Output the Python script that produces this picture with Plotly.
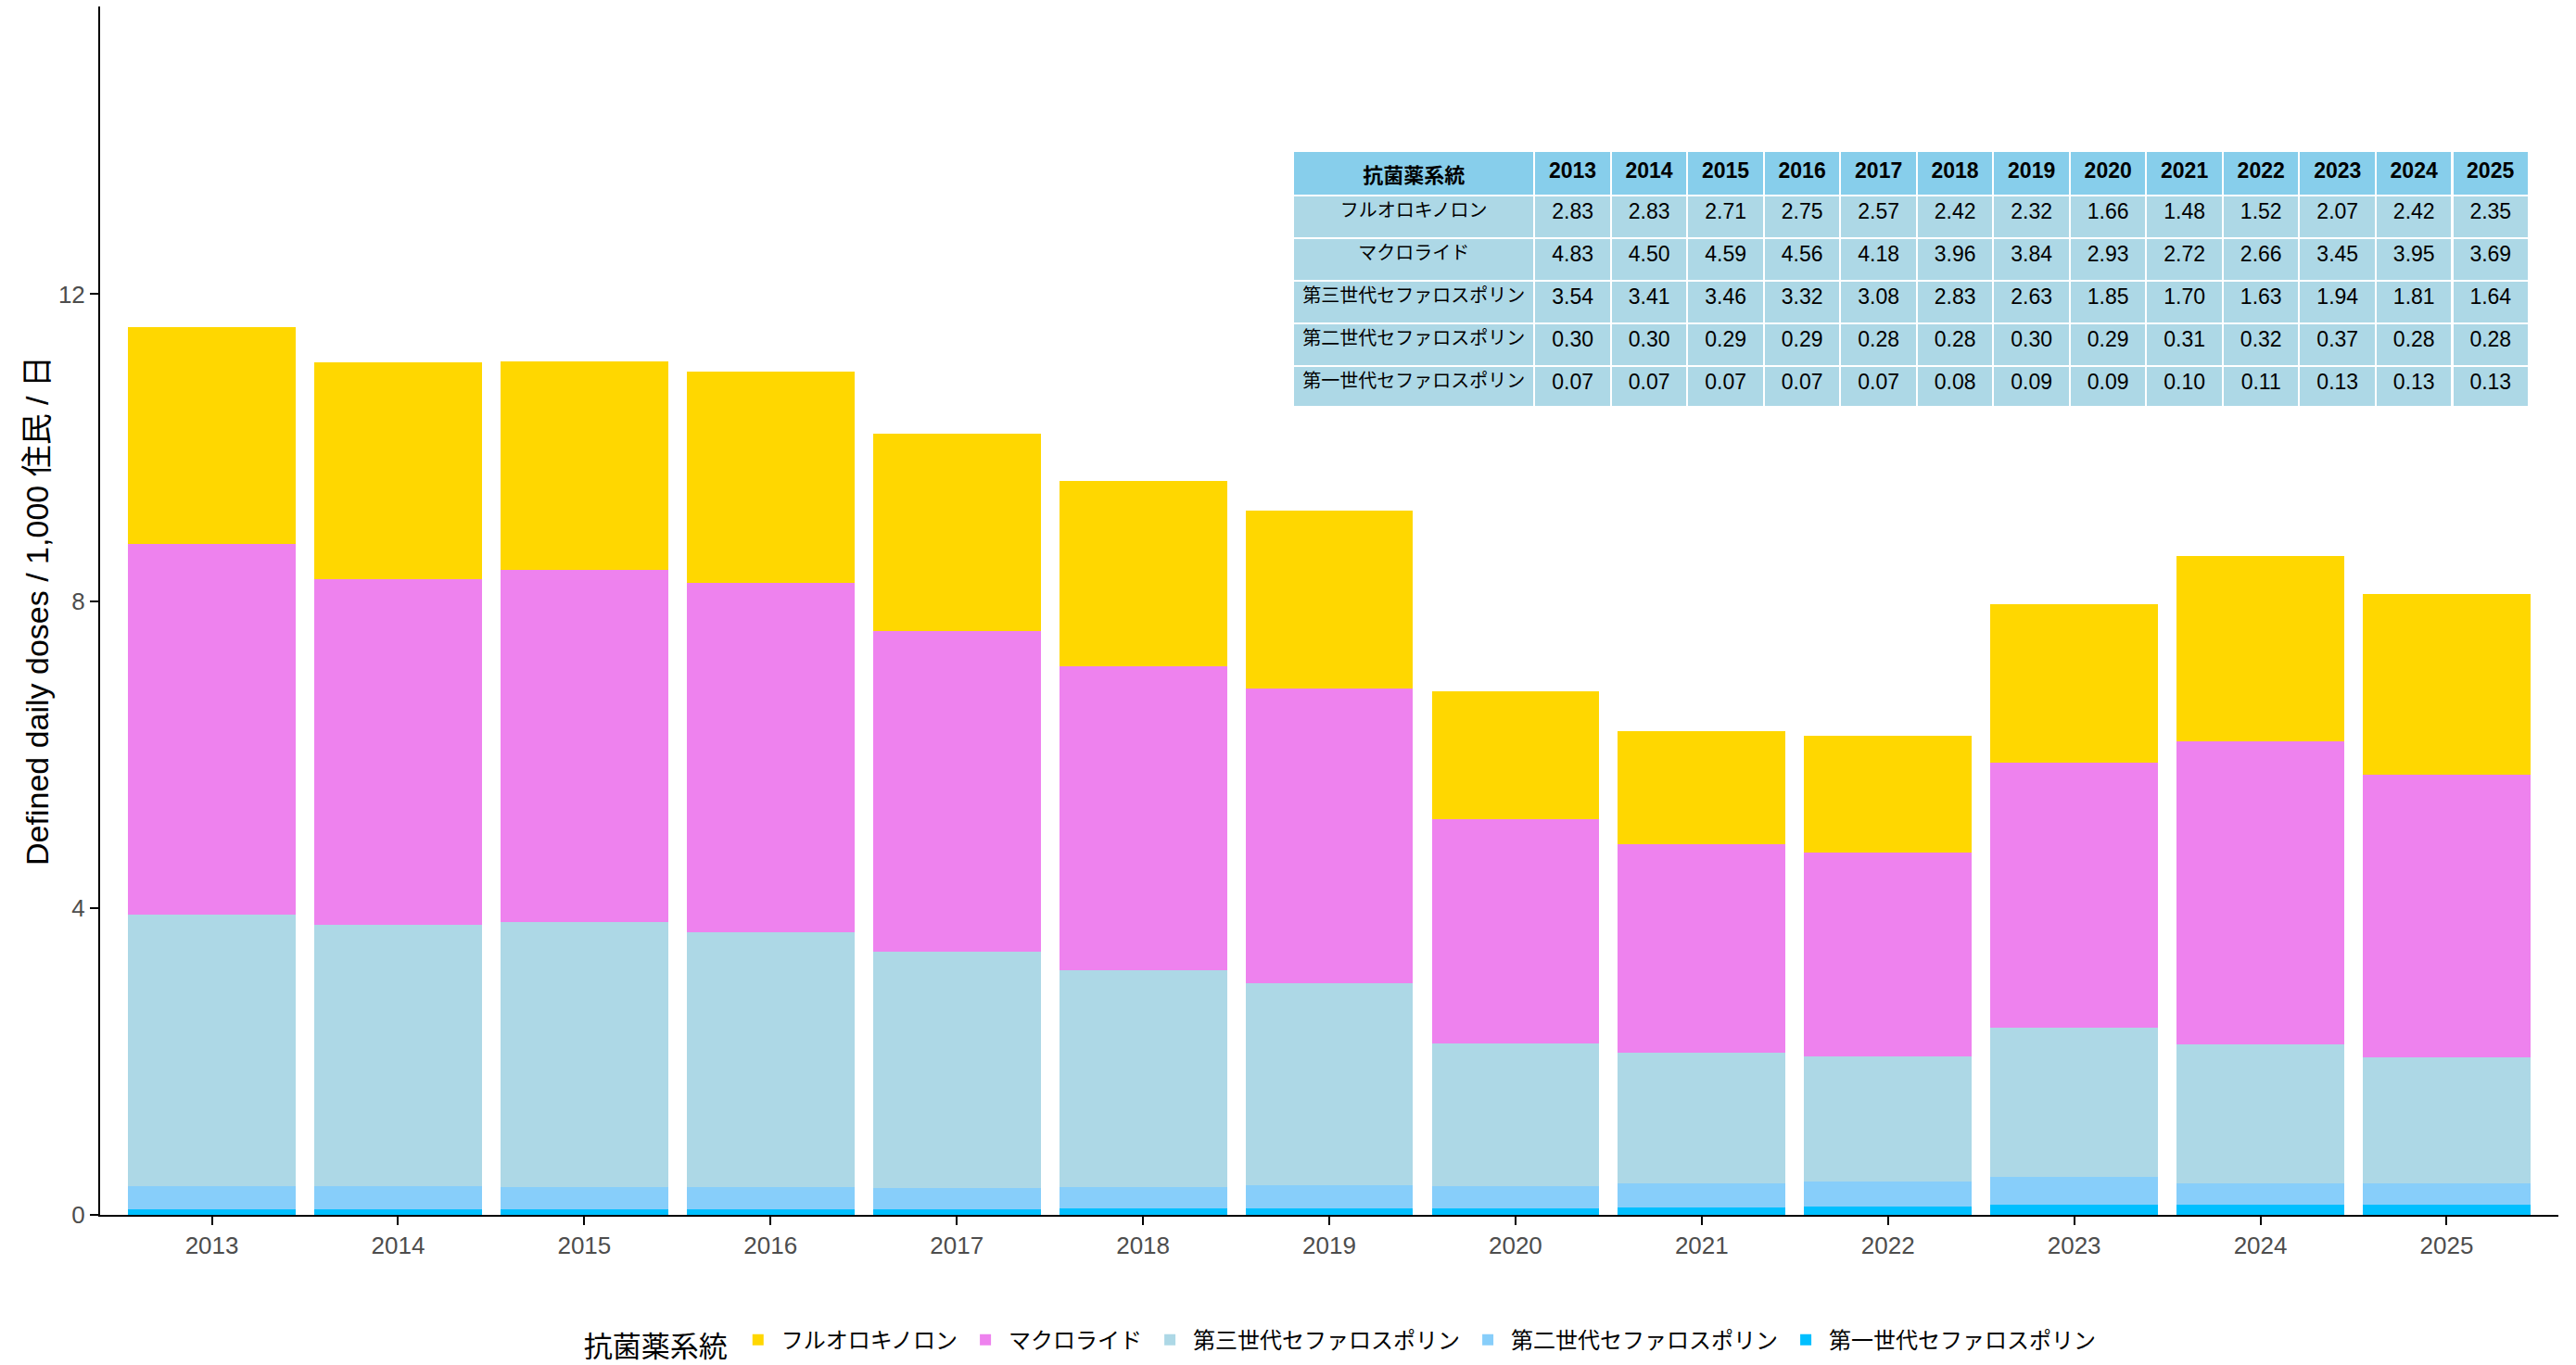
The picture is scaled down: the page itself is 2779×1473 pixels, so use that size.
import plotly.graph_objects as go

years = ["2013", "2014", "2015", "2016", "2017", "2018", "2019",
         "2020", "2021", "2022", "2023", "2024", "2025"]

class_names = ["フルオロキノロン", "マクロライド", "第三世代セファロスポリン",
               "第二世代セファロスポリン", "第一世代セファロスポリン"]

fluoroquinolone = [2.83, 2.83, 2.71, 2.75, 2.57, 2.42, 2.32, 1.66, 1.48, 1.52, 2.07, 2.42, 2.35]
macrolide = [4.83, 4.50, 4.59, 4.56, 4.18, 3.96, 3.84, 2.93, 2.72, 2.66, 3.45, 3.95, 3.69]
ceph3 = [3.54, 3.41, 3.46, 3.32, 3.08, 2.83, 2.63, 1.85, 1.70, 1.63, 1.94, 1.81, 1.64]
ceph2 = [0.30, 0.30, 0.29, 0.29, 0.28, 0.28, 0.30, 0.29, 0.31, 0.32, 0.37, 0.28, 0.28]
ceph1 = [0.07, 0.07, 0.07, 0.07, 0.07, 0.08, 0.09, 0.09, 0.10, 0.11, 0.13, 0.13, 0.13]

colors = ["#FFD700", "#EE82EE", "#ADD8E6", "#87CEFA", "#00BFFF"]
series = [fluoroquinolone, macrolide, ceph3, ceph2, ceph1]

y_ticks = [0, 4, 8, 12]

FONT = "Liberation Sans, Arial, Noto Sans CJK JP, sans-serif"
CJK = "Noto Sans CJK JP, Liberation Sans, sans-serif"
TBL = "Liberation Sans, Arial, Noto Sans CJK JP, sans-serif"

fig = go.Figure()

# stack from bottom (first generation) to top (fluoroquinolone)
for idx in [4, 3, 2, 1, 0]:
    fig.add_trace(go.Bar(
        x=years, y=series[idx], name=class_names[idx],
        marker=dict(color=colors[idx], line=dict(width=0)),
        legendrank=idx + 1,
        hoverinfo="x+y+name",
    ))

# table
header_vals = ["<b>抗菌薬系統</b>"] + [f"<b>{y}</b>" for y in years]
cell_cols = [class_names]
for j in range(len(years)):
    cell_cols.append([f"{s[j]:.2f}" for s in series])

col_sizes = [20] + [23] * len(years)
col_fams = [CJK] + [TBL] * len(years)

fig.add_trace(go.Table(
    domain=dict(x=[0.4853, 0.9883], y=[0.6695, 0.8804]),
    columnwidth=[147] + [46.6] * len(years),
    header=dict(values=header_vals, fill_color="#87CEEB",
                line=dict(color="white", width=2), align="center",
                font=dict(family=col_fams, size=[22] + [23] * len(years), color="black"),
                height=46),
    cells=dict(values=cell_cols, fill_color="#ADD8E6",
               line=dict(color="white", width=2), align="center",
               font=dict(family=col_fams, size=col_sizes, color="black"), height=46),
))

fig.update_layout(
    width=2779, height=1473,
    barmode="stack", bargap=0.1,
    plot_bgcolor="white", paper_bgcolor="white",
    margin=dict(l=108, r=19, t=7, b=162, autoexpand=False),
    font=dict(family=FONT, color="#4D4D4D"),
    legend=dict(
        orientation="h", x=0.505, xanchor="center", y=-0.106, yanchor="middle",
        traceorder="normal",
        title=dict(text="抗菌薬系統", side="left",
                   font=dict(family=CJK, size=31, color="black")),
        font=dict(family=CJK, size=24, color="black"),
        itemsizing="constant", itemwidth=40,
    ),
    xaxis=dict(
        type="category", range=[-0.6, 12.6], automargin=False,
        showline=True, linecolor="black", linewidth=2,
        ticks="outside", ticklen=9, tickcolor="black", tickwidth=2,
        tickfont=dict(family=FONT, size=26, color="#4D4D4D"),
        showgrid=False, zeroline=False,
    ),
    yaxis=dict(
        range=[0, 15.75], tickvals=y_ticks, automargin=False,
        showline=True, linecolor="black", linewidth=2,
        ticks="outside", ticklen=9, tickcolor="black", tickwidth=2,
        tickfont=dict(family=FONT, size=26, color="#4D4D4D"),
        showgrid=False, zeroline=False,
        title=dict(text="Defined daily doses / 1,000 住民 / 日",
                   font=dict(family=FONT, size=34, color="black"), standoff=0),
    ),
)

fig.write_html(
    "out.html",
    config={"displayModeBar": False},
    post_script="document.body.style.margin='0';document.body.style.overflow='hidden';",
)
